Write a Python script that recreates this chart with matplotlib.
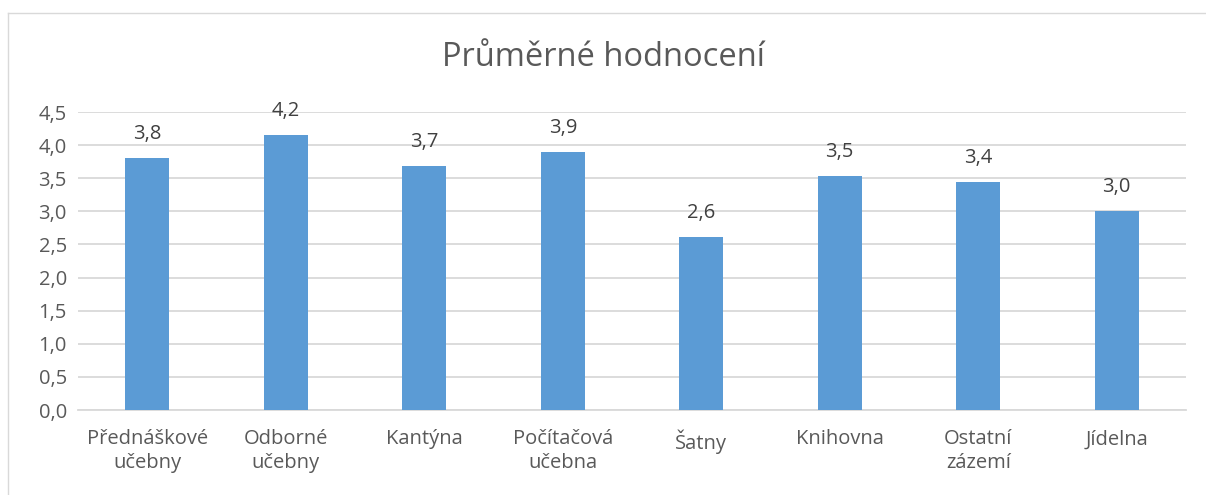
import numpy as np
import matplotlib.pyplot as plt
from matplotlib.lines import Line2D

categories = ['Přednáškové\nučebny', 'Odborné\nučebny', 'Kantýna', 'Počítačová\nučebna',
              'Šatny', 'Knihovna', 'Ostatní\nzázemí', 'Jídelna']
values = [3.80, 4.15, 3.69, 3.90, 2.62, 3.53, 3.44, 3.00]
yticks = [0.0, 0.5, 1.0, 1.5, 2.0, 2.5, 3.0, 3.5, 4.0, 4.5]

plt.rcParams['font.family'] = ['Open Sans', 'DejaVu Sans']
text_color = '#595959'
grid_color = '#d9d9d9'

fig = plt.figure(figsize=(12.06, 4.95), dpi=100)
ax = fig.add_axes([0.0647, 0.1717, 0.9187, 0.602])

x = np.arange(len(categories))
ax.bar(x, values, width=0.32, color='#5b9bd5', zorder=3)

for xi, v in zip(x, values):
    ax.annotate(f'{v:.1f}'.replace('.', ','), (xi, v), xytext=(0, 10),
                textcoords='offset points', ha='center', va='bottom',
                fontsize=14.5, color='#404040')

ax.set_xlim(-0.5, len(categories) - 0.5)
ax.set_ylim(0, 4.5)
ax.set_yticks(yticks)
ax.set_yticklabels([f'{t:.1f}'.replace('.', ',') for t in yticks], fontsize=14.5, color=text_color)
ax.set_xticks(x)
ax.set_xticklabels(categories, fontsize=14.5, color=text_color, linespacing=1.25)
ax.tick_params(length=0, pad=8)
ax.tick_params(axis='x', pad=14)
ax.grid(axis='y', color=grid_color, linewidth=1.3, zorder=0)
for s in ['top', 'right', 'left']:
    ax.spines[s].set_visible(False)
ax.spines['bottom'].set_color(grid_color)
ax.spines['bottom'].set_linewidth(1.3)

fig.text(0.5, 0.883, 'Průměrné hodnocení', ha='center', va='center',
         fontsize=23.5, color=text_color)

# chart frame (partly cropped)
fig.add_artist(Line2D([8 / 1206, 8 / 1206], [0, 1 - 13 / 495], color=grid_color, lw=1))
fig.add_artist(Line2D([8 / 1206, 1], [1 - 13 / 495, 1 - 13 / 495], color=grid_color, lw=1))

fig.savefig('out.png', dpi=100)
